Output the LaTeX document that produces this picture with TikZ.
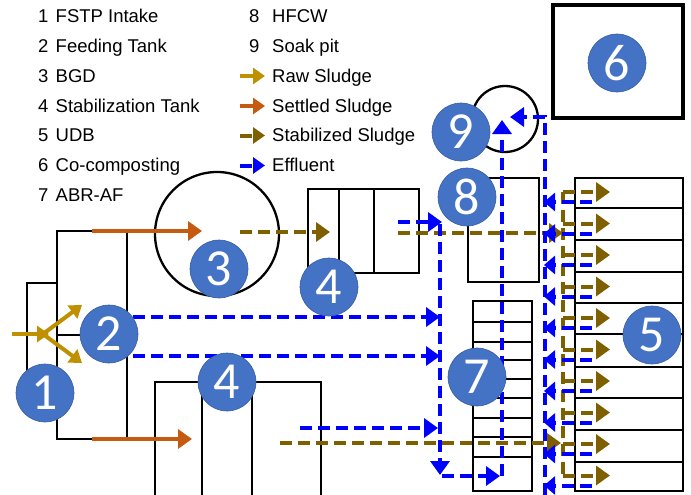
\documentclass[tikz,border=0pt]{standalone}
\usepackage{fontspec}
\setmainfont{Liberation Sans}
\newfontfamily\numfont{Carlito}
\usetikzlibrary{arrows.meta}
\definecolor{rawc}{RGB}{191,144,0}
\definecolor{setc}{RGB}{197,90,17}
\definecolor{stabc}{RGB}{127,96,0}
\definecolor{effc}{RGB}{0,0,255}
\definecolor{numc}{RGB}{68,114,196}
\definecolor{numb}{RGB}{56,94,166}
\begin{document}
\begin{tikzpicture}[x=1pt,y=-1pt,
  outline/.style={draw=black,line width=2.9pt},
  thinout/.style={draw=black,line width=2.3pt},
  bighead/.style={-{Triangle[length=14pt,width=19pt]}},
  midhead/.style={-{Triangle[length=12pt,width=16pt]}},
  smallhead/.style={-{Triangle[length=12pt,width=16pt]}},
  rawflow/.style={draw=rawc,line width=4pt},
  setflow/.style={draw=setc,line width=4pt},
  stabflow/.style={draw=stabc,line width=4pt,dash pattern=on 12pt off 6pt},
  effflow/.style={draw=effc,line width=4pt,dash pattern=on 12pt off 6pt},
  num/.style={circle,fill=numc,draw=numb,line width=0.6pt,minimum size=58pt,inner sep=0pt,text=white,font=\numfont\fontsize{52}{52}\selectfont},
  leg/.style={anchor=base west,inner sep=0pt,font=\fontsize{18.5}{20}\selectfont}]

\useasboundingbox (0,0) rectangle (691,495);

% ---------- legend ----------
\foreach \n/\t/\y in {1/FSTP Intake/22.3, 2/Feeding Tank/52.2, 3/BGD/82.1, 4/Stabilization Tank/112, 5/UDB/141.8, 6/Co-composting/171.7, 7/ABR-AF/201.5}{
  \node[leg] (ln\n) at (38,\y) {\n};
  \node[leg] (lt\n) at (55.5,\y) {\t};
}
\node[leg] (ln8) at (249,22.3) {8};
\node[leg] (lt8) at (272,22.3) {HFCW};
\node[leg] (ln9) at (249,52.2) {9};
\node[leg] (lt9) at (272,52.2) {Soak pit};
\node[leg] (lt10) at (272,82.1) {Raw Sludge};
\node[leg] (lt11) at (272,112) {Settled Sludge};
\node[leg] (lt12) at (272,141.8) {Stabilized Sludge};
\node[leg] (lt13) at (272,171.7) {Effluent};
\coordinate (la1) at (240,76); \coordinate (lb1) at (265,76);
\coordinate (la2) at (240,106); \coordinate (lb2) at (265,106);
\coordinate (la3) at (240,135.5); \coordinate (lb3) at (265,135.5);
\coordinate (la4) at (240,165.5); \coordinate (lb4) at (265,165.5);
\draw[rawflow,smallhead] (la1) -- (lb1);
\draw[setflow,smallhead] (la2) -- (lb2);
\draw[stabflow,smallhead] (la3) -- (lb3);
\draw[effflow,smallhead] (la4) -- (lb4);

% ---------- units ----------
% 1 FSTP intake and 2 feeding tank
\draw[outline] (27,395) -- (27,283) -- (57,283);
\draw[outline] (57,231) rectangle (127,439);
\draw[outline] (57,335) -- (95,335);
% 3 BGD
\draw[thinout] (217,234) circle[radius=62pt];
% 4 stabilization tanks
\draw[outline] (308,189) rectangle (419,273);
\draw[outline] (339,189) -- (339,273) (374,189) -- (374,273);
\draw[outline] (155,497) -- (155,382) -- (321,382) -- (321,497);
\draw[outline] (202,382) -- (202,497) (252,382) -- (252,497);
% 8 HFCW
\draw[outline] (468,178) rectangle (539,282);
% 9 soak pit
\draw[thinout] (505,119) circle[radius=33pt];
% 6 co-composting
\draw[black,line width=3.2pt] (553,5) rectangle (683,118);
% 7 ABR-AF
\draw[outline] (473,301) rectangle (532,491);
\foreach \yy in {322,342,360,379,398,418,437,457}
  \draw[outline] (473,\yy) -- (532,\yy);
% 5 UDB
\draw[outline] (575,178) rectangle (683,491);
\foreach \yy in {208,240,272,303,334,367,398,430,462}
  \draw[outline] (575,\yy) -- (683,\yy);

% ---------- flows ----------
\coordinate (rawin) at (12,334);
\coordinate (rawx) at (43,334);
\coordinate (rawh) at (49,334);
\coordinate (rawu) at (82,305);
\coordinate (rawd) at (82,363);
\draw[rawflow] (rawin) -- (rawx);
\draw[rawflow,midhead] (rawx) -- (rawh);
\draw[rawflow,midhead] (rawx) -- (rawu);
\draw[rawflow,midhead] (rawx) -- (rawd);

\coordinate (s1a) at (92,231); \coordinate (s1b) at (202,231);
\coordinate (s2a) at (92,439); \coordinate (s2b) at (192,439);
\draw[setflow,bighead] (s1a) -- (s1b);
\draw[setflow,bighead] (s2a) -- (s2b);

\coordinate (b3a) at (240,232); \coordinate (b3b) at (330,232);
\draw[stabflow,bighead] (b3a) -- (b3b);
\coordinate (t4a) at (398,233); \coordinate (t4b) at (563,233);
\draw[stabflow,bighead] (t4a) -- (t4b);
\coordinate (t5a) at (280,443); \coordinate (t5b) at (561,443);
\draw[stabflow,bighead] (t5a) -- (t5b);

\coordinate (e1a) at (133,317); \coordinate (e1b) at (440,317);
\coordinate (e2a) at (133,356); \coordinate (e2b) at (440,356);
\coordinate (e3a) at (398,222); \coordinate (e3b) at (442,222);
\coordinate (e4a) at (300,428); \coordinate (e4b) at (438,428);
\draw[effflow,bighead] (e1a) -- (e1b);
\draw[effflow,bighead] (e2a) -- (e2b);
\draw[effflow,bighead] (e3a) -- (e3b);
\draw[effflow,bighead] (e4a) -- (e4b);
\coordinate (v1a) at (440,224); \coordinate (v1b) at (440,475);
\draw[effflow,bighead] (v1a) -- (v1b);
\coordinate (h1a) at (442,476); \coordinate (h1b) at (500,476);
\draw[effflow,bighead] (h1a) -- (h1b);
\coordinate (u1a) at (502,476); \coordinate (u1b) at (502,120);
\draw[effflow,bighead] (u1a) -- (u1b);
\coordinate (r1a) at (545,495); \coordinate (r1c) at (545,117); \coordinate (r1b) at (510,117);
\draw[effflow,bighead] (r1a) -- (r1c) -- (r1b);

% UDB branches
\coordinate (bv1) at (563,192); \coordinate (bv2) at (563,477);
\draw[stabflow] (bv1) -- (bv2);
\foreach \k in {0,...,9}{
  \coordinate (sb\k) at (563,192+31.5*\k);
  \coordinate (se\k) at (610,192+31.5*\k);
  \draw[stabflow,bighead] (sb\k) -- (se\k);
  \coordinate (eb\k) at (592,202+31.5*\k);
  \coordinate (ee\k) at (544,202+31.5*\k);
  \draw[effflow,-{Triangle[length=11pt,width=18pt]}] (eb\k) -- (ee\k);
}

% ---------- numbers ----------
\node[num] (n1) at (45,393) {1};
\node[num] (n2) at (109,334) {2};
\node[num] (n3) at (219,269) {3};
\node[num] (n4a) at (329,287) {4};
\node[num] (n4b) at (227,382) {4};
\node[num] (n5) at (652,335) {5};
\node[num] (n6) at (617,63) {6};
\node[num] (n7) at (477,377) {7};
\node[num] (n8) at (467,197) {8};
\node[num] (n9) at (461,132) {9};
\end{tikzpicture}
\end{document}
